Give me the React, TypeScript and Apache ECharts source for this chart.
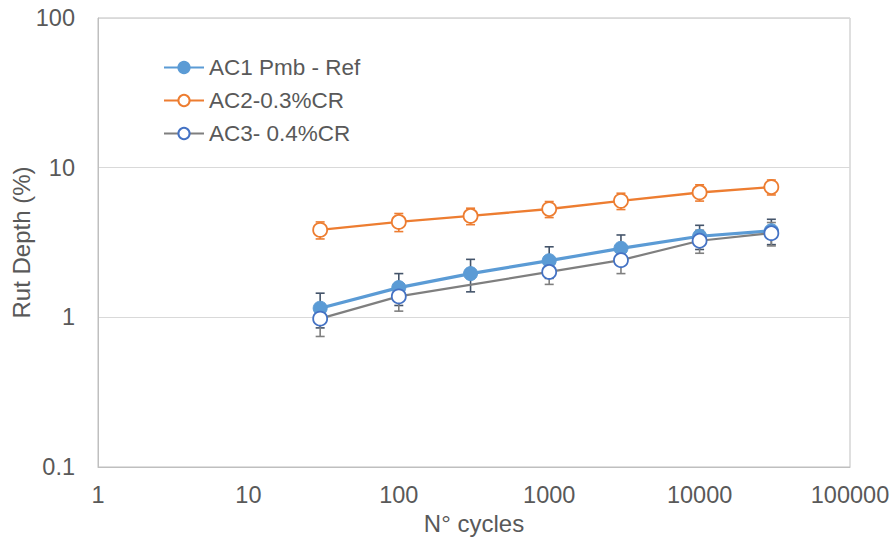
import React, { useEffect, useRef } from "react";
import * as echarts from "echarts";

const cycles = [30, 100, 300, 1000, 3000, 10000, 30000];
const ac1 = [1.15, 1.58, 1.96, 2.39, 2.89, 3.48, 3.79];
const ac1Err = [0.3, 0.38, 0.48, 0.57, 0.66, 0.64, 0.73];
const ac2 = [3.84, 4.34, 4.76, 5.29, 6.0, 6.83, 7.42];
const ac2Err = [0.5, 0.6, 0.6, 0.65, 0.75, 0.85, 0.85];
const ac3Cycles = [30, 100, 1000, 3000, 10000, 30000];
const ac3 = [0.98, 1.38, 2.01, 2.41, 3.25, 3.65];
const ac3Err = [0.235, 0.28, 0.35, 0.45, 0.57, 0.65];

const names = ["AC1 Pmb - Ref", "AC2-0.3%CR", "AC3- 0.4%CR"];

const FONT = "'Liberation Sans', Arial, sans-serif";
const TXT = "#595959";

function errSeries(xs: number[], ys: number[], es: number[], color: string) {
  return {
    type: "custom",
    silent: true,
    encode: { x: 0, y: [1, 2] },
    data: xs.map((x, i) => [x, ys[i] - es[i], ys[i] + es[i]]),
    renderItem: (params: any, api: any) => {
      const x = api.value(0);
      const lo = api.coord([x, api.value(1)]);
      const hi = api.coord([x, api.value(2)]);
      const w = 4.5;
      const style = { stroke: color, lineWidth: 1.6 };
      return {
        type: "group",
        children: [
          { type: "line", shape: { x1: lo[0], y1: lo[1], x2: hi[0], y2: hi[1] }, style },
          { type: "line", shape: { x1: lo[0] - w, y1: lo[1], x2: lo[0] + w, y2: lo[1] }, style },
          { type: "line", shape: { x1: hi[0] - w, y1: hi[1], x2: hi[0] + w, y2: hi[1] }, style },
        ],
      };
    },
  };
}

export default function App() {
  const ref = useRef<HTMLDivElement>(null);
  useEffect(() => {
    if (!ref.current) return;
    const chart = echarts.init(ref.current, undefined, { renderer: "svg" });
    const fmt = (v: number) => String(Number(v.toPrecision(6)));
    chart.setOption({
      animation: false,
      backgroundColor: "#ffffff",
      textStyle: { fontFamily: FONT },
      grid: {
        left: 98,
        right: 41,
        top: 18,
        bottom: 79,
        containLabel: false,
        outerBoundsMode: "none",
        show: true,
        borderColor: "#BFBFBF",
        borderWidth: 1,
      },
      legend: {
        data: names,
        orient: "vertical",
        left: 158,
        top: 51,
        itemWidth: 40,
        itemHeight: 14,
        itemGap: 10,
        textStyle: { color: TXT, fontSize: 22.5, fontFamily: FONT },
      },
      xAxis: {
        type: "log",
        logBase: 10,
        min: 1,
        max: 100000,
        name: "N° cycles",
        nameLocation: "middle",
        nameGap: 44,
        nameMoveOverlap: false,
        nameTextStyle: { color: TXT, fontSize: 24, fontFamily: FONT },
        axisLine: { show: true, lineStyle: { color: "#BFBFBF" } },
        axisTick: { show: false },
        axisLabel: { color: TXT, fontSize: 23.5, fontFamily: FONT, margin: 16, formatter: fmt },
        splitLine: { show: false },
        minorSplitLine: { show: false },
      },
      yAxis: {
        type: "log",
        logBase: 10,
        min: 0.1,
        max: 100,
        name: "Rut Depth (%)",
        nameLocation: "middle",
        nameGap: 65,
        nameMoveOverlap: false,
        nameTextStyle: { color: TXT, fontSize: 24, fontFamily: FONT },
        axisLine: { show: true, lineStyle: { color: "#BFBFBF" } },
        axisTick: { show: false },
        axisLabel: { color: TXT, fontSize: 23.5, fontFamily: FONT, margin: 23, formatter: fmt },
        splitLine: { show: true, lineStyle: { color: "#D9D9D9" } },
      },
      series: [
        errSeries(cycles, ac1, ac1Err, "#44546A"),
        errSeries(cycles, ac2, ac2Err, "#ED7D31"),
        errSeries(ac3Cycles, ac3, ac3Err, "#7F7F7F"),
        {
          name: names[0],
          type: "line",
          data: cycles.map((x, i) => [x, ac1[i]]),
          symbol: "circle",
          symbolSize: 14,
          lineStyle: { color: "#5B9BD5", width: 3.2 },
          itemStyle: { color: "#5B9BD5", borderColor: "#5B9BD5", borderWidth: 1 },
        },
        {
          name: names[1],
          type: "line",
          data: cycles.map((x, i) => [x, ac2[i]]),
          symbol: "circle",
          symbolSize: 14,
          lineStyle: { color: "#ED7D31", width: 2.4 },
          itemStyle: { color: "#ffffff", borderColor: "#ED7D31", borderWidth: 1.8 },
        },
        {
          name: names[2],
          type: "line",
          data: ac3Cycles.map((x, i) => [x, ac3[i]]),
          symbol: "circle",
          symbolSize: 14,
          lineStyle: { color: "#7F7F7F", width: 2.2 },
          itemStyle: { color: "#ffffff", borderColor: "#4472C4", borderWidth: 1.8 },
        },
      ],
    });
    return () => chart.dispose();
  }, []);
  return (
    <div
      ref={ref}
      style={{ position: "fixed", left: 0, top: 0, width: 891, height: 546 }}
    />
  );
}
